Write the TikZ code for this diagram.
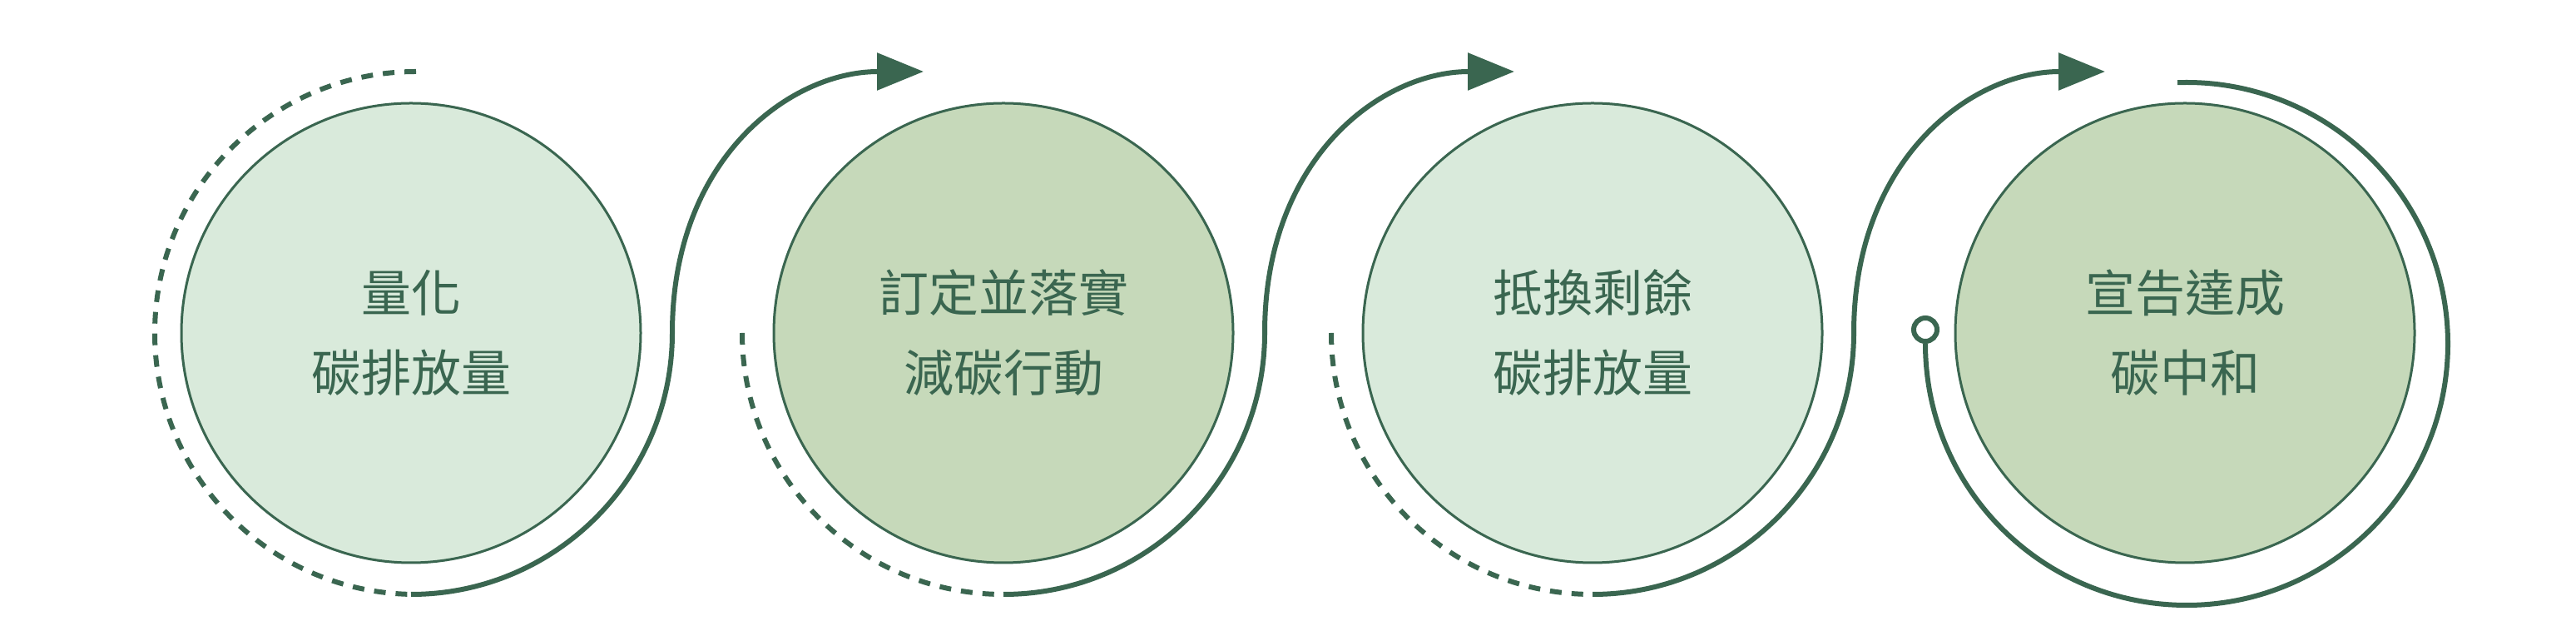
\documentclass[tikz,border=0pt]{standalone}
\usepackage{fontspec}
\setmainfont{Noto Sans CJK TC}
\usetikzlibrary{calc,arrows.meta}
\definecolor{dk}{HTML}{3A6650}
\definecolor{lt}{HTML}{D9EADB}
\definecolor{md}{HTML}{C6D9BA}
\begin{document}
\begin{tikzpicture}[x=1pt,y=1pt,
  stage/.style={circle,draw=dk,line width=1.5pt,minimum size=276pt,inner sep=0pt,align=center,text=dk,font=\fontsize{30}{48}\selectfont},
  solidline/.style={draw=dk,line width=3pt},
  dashline/.style={draw=dk,line width=3pt,dash pattern=on 7pt off 6pt},
  arr/.style={-{Triangle[length=28pt,width=22pt]}}]
\useasboundingbox (0,0) rectangle (1548,385);
\node[stage,fill=lt] (c1) at (247,185) {量化\\碳排放量};
\node[stage,fill=md] (c2) at (603,185) {訂定並落實\\減碳行動};
\node[stage,fill=lt] (c3) at (957,185) {抵換剩餘\\碳排放量};
\node[stage,fill=md] (c4) at (1313,185) {宣告達成\\碳中和};
\coordinate (a1) at (555,342);
\coordinate (a2) at (910,342);
\coordinate (a3) at (1265,342);
% circle 1
\draw[dashline] ($(c1)+(3,157)$) arc[start angle=90,end angle=270,radius=157];
\draw[solidline,arr] ($(c1)+(0,-157)$) arc[start angle=270,end angle=360,radius=157]
  .. controls +(0,105) and +(-80,0) .. (a1);
% circle 2
\draw[dashline] ($(c2)+(-157,0)$) arc[start angle=180,end angle=270,radius=157];
\draw[solidline,arr] ($(c2)+(0,-157)$) arc[start angle=270,end angle=360,radius=157]
  .. controls +(0,105) and +(-80,0) .. (a2);
% circle 3
\draw[dashline] ($(c3)+(-157,0)$) arc[start angle=180,end angle=270,radius=157];
\draw[solidline,arr] ($(c3)+(0,-157)$) arc[start angle=270,end angle=360,radius=157]
  .. controls +(0,105) and +(-80,0) .. (a3);
% circle 4
\node[circle,draw=dk,line width=3pt,fill=white,minimum size=14pt,inner sep=0pt] (o4) at ($(c4)+(-156,2)$) {};
\draw[solidline] (o4.south) arc[start angle=180,end angle=452,radius=157];
\end{tikzpicture}
\end{document}
